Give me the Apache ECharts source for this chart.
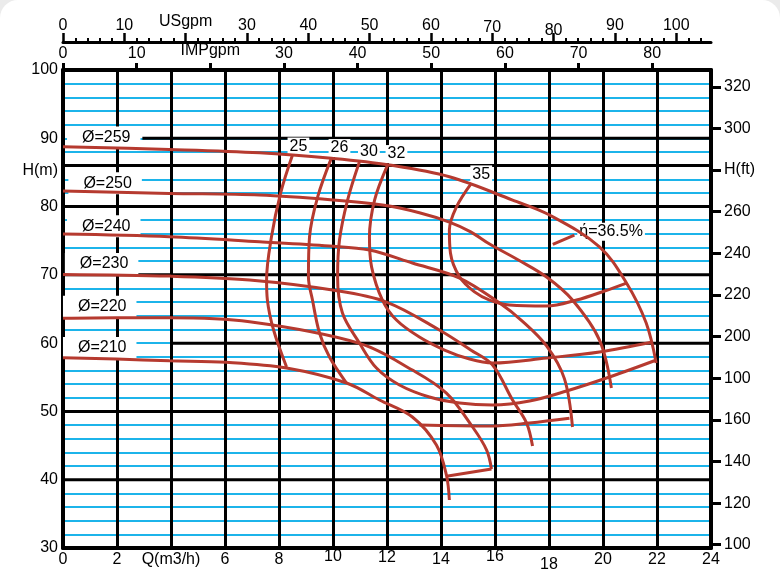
<!DOCTYPE html>
<html><head><meta charset="utf-8">
<script src="https://cdn.jsdelivr.net/npm/echarts@6/dist/echarts.min.js"></script>
<style>html,body{margin:0;padding:0;background:#fff}#c{width:780px;height:575px}</style>
</head><body><div id="c"></div>
<script>
// ---------- tick labels ----------
const qTicks   = [0,2,4,6,8,10,12,14,16,18,20,22,24];
const qLabels  = ['0','2','Q(m3/h)','6','8','10','12','14','16','18','20','22','24'];
const hTicks   = [30,40,50,60,70,80,90,100,85.3];
const hLabels  = ['30','40','50','60','70','80','90','100','H(m)'];
const ftTicks  = [100,120,140,160,180,200,220,240,260,280,300,320];
const ftLabels = ['100','120','140','160','100','200','220','240','260','H(ft)','300','320'];
const usTicks  = [0,10,20,30,40,50,60,70,80,90,100];
const usLabels = ['0','10','USgpm','30','40','50','60','70','80','90','100'];
const impTicks = [0,10,20,30,40,50,60,70,80];
const impLabels= ['0','10','IMPgpm','30','40','50','60','70','80'];

// ---------- H-Q curves (Q m3/h, H m) ----------
const h259 = [[0,88.76],[3.94,88.37],[7.28,87.88],[9.94,87.06],[12.09,86.08],[14.31,84.36],[16.65,80.95],[18.02,78.76],[19.87,74.11],[20.87,68.8],[21.6,62.94],[21.97,57.09]];
const h250 = [[0,82.27],[3.94,81.93],[7.28,81.68],[9.9,81.0],[11.83,80.22],[13.2,79.1],[14.31,77.73],[15.1,76.3],[15.8,74.51],[16.9,72.1],[17.91,69.68],[18.87,66.31],[19.87,60.45],[20.31,53.43]];
const h240 = [[0,75.97],[3.94,75.58],[7.28,74.85],[9.87,74.22],[11.35,73.63],[12.94,71.73],[14.69,69.53],[16.17,65.87],[17.02,63.2],[17.91,59.6],[18.57,54.8],[18.87,47.72]];
const h230 = [[0,70.07],[3.94,69.82],[6.91,69.24],[9.98,67.77],[11.98,66.02],[13.94,61.92],[15.1,59.0],[15.91,56.79],[16.65,51.67],[17.17,48.3],[17.39,44.93]];
const h220 = [[0,63.63],[1.98,63.72],[3.94,63.72],[6.91,63.13],[10.98,59.97],[12.94,56.06],[14.2,52.69],[15.17,47.72],[15.69,44.35],[15.87,41.57]];
const h210 = [[0,57.86],[1.98,57.67],[3.94,57.42],[6.06,57.19],[8.28,56.35],[10.5,54.16],[11.72,51.67],[12.94,49.18],[13.83,45.08],[14.2,40.69],[14.31,37.03]];

// ---------- efficiency curves ----------
const e25L = [[8.5,87.54],[8.06,81.98],[7.72,75.53],[7.54,69.24],[7.57,66.31],[7.8,61.92],[8.28,56.5]];
const e25R = [[14.2,40.5],[15.87,41.57]];
const e26L = [[9.94,87.1],[9.43,81.39],[9.13,75.53],[9.09,69.68],[9.24,66.31],[9.5,61.48],[9.87,57.96],[10.5,54.16]];
const e26R = [[13.2,48.0],[15.8,47.86],[17.28,48.3],[18.76,48.99]];
const e30  = [[10.98,86.56],[10.54,80.95],[10.24,75.1],[10.17,69.68],[10.35,64.41],[10.98,60.01],[11.61,56.35],[12.46,53.87],[13.57,52.11],[14.69,51.23],[15.91,50.94],[17.28,51.52],[18.65,52.99],[20.24,55.04],[21.98,57.53]];
const e32  = [[12.02,86.08],[11.54,80.95],[11.35,75.53],[11.43,71.14],[11.83,66.31],[12.35,63.38],[13.2,60.89],[14.13,58.99],[15.06,57.67],[15.91,57.09],[17.91,57.82],[19.87,58.7],[21.83,60.16]];
const e35  = [[15.13,83.44],[14.57,79.93],[14.31,76.56],[14.35,73.19],[14.69,69.68],[15.24,67.5],[15.8,66.31],[16.54,65.58],[17.91,65.43],[19.02,66.31],[20.06,67.64],[20.87,68.8]];
const e365 = [[18.14,74.47],[18.94,75.83]];

// ---------- curve labels ----------
const diaNames = ['Ø=259','Ø=250','Ø=240','Ø=230','Ø=220','Ø=210'];
const diaPos   = [[1.51,90.1],[1.56,83.4],[1.51,77.1],[1.43,71.58],[1.36,65.33],[1.36,59.28]];
const effNames = ['25','26','30','32','35','ή=36.5%'];
const effPos   = [[8.72,88.79],[10.24,88.57],[11.33,87.98],[12.35,87.69],[15.49,84.71],[20.3,76.31]];

// black (heavy) horizontal grid levels
const blackFull = [40,50,70,80,86];
const blackPartial = [[2.94,24,90],[4,24,60],[0,0.35,60]];

const FONT = '"Liberation Sans", Arial, sans-serif';
const RED = '#b63a2f';
const BLUE = '#1cb4ea';
const M2FT = 1/0.3048, US = 4.40287, IMP = 3.66615;

const qShift = {10:'h',16:'h',18:'l',12:'m'};
const usShift = {20:'u',80:'e',70:'m'};

const txt = {fontSize:16,fontFamily:FONT,color:'#000'};

const series = [];
blackFull.forEach(y => series.push({type:'line',data:[[0,y],[24,y]],symbol:'none',silent:true,animation:false,
  lineStyle:{color:'#000',width:3},z:2}));
blackPartial.forEach(p => series.push({type:'line',data:[[p[0],p[2]],[p[1],p[2]]],symbol:'none',silent:true,animation:false,
  lineStyle:{color:'#000',width:3},z:2}));
const lblBase = {show:true,position:'inside',formatter:'{b}',...txt,backgroundColor:'#ffffff',textBorderWidth:0,opacity:1};
series.push({type:'scatter',symbolSize:0.01,itemStyle:{color:'#ffffff',opacity:1},silent:true,animation:false,z:3,
  data:diaNames.map((n,i)=>({name:n,value:diaPos[i]})),
  label:{...lblBase,padding:[3,10,3,15]}});
series.push({type:'scatter',symbolSize:0.01,itemStyle:{color:'#ffffff',opacity:1},silent:true,animation:false,z:3,
  data:effNames.map((n,i)=>({name:n,value:effPos[i]})),
  label:{...lblBase,padding:[1,2]}});
[h259,h250,h240,h230,h220,h210,e25L,e25R,e26L,e26R,e30,e32,e35,e365].forEach(d => series.push({
  type:'line',data:d,symbol:'none',showSymbol:false,smooth:d.length>2?0.35:false,silent:true,animation:false,
  lineStyle:{color:RED,width:3},z:4}));

const chart = echarts.init(document.getElementById('c'),null,{renderer:'canvas'});
chart.setOption({
  animation:false,
  backgroundColor:'#ebebeb',
  graphic:[{type:'rect',left:0,top:0,z:-10,shape:{width:780,height:575,r:[18,18,0,0]},style:{fill:'#fff'}}],
  grid:{left:63,top:70,width:648,height:478},
  xAxis:[
    {type:'value',position:'bottom',min:0,max:24,interval:2,z:1,
     axisLine:{onZero:false,lineStyle:{color:'#000',width:4}},axisTick:{show:false},
     splitLine:{show:true,lineStyle:{color:'#000',width:3}},
     axisLabel:{margin:1,...txt,formatter:v=>'{'+(qShift[v]||'n')+'|'+qLabels[qTicks.indexOf(v)]+'}',
       rich:{n:{...txt,padding:[3,0,0,0]},m:{...txt,padding:[1,0,0,0]},h:{...txt,padding:[0,0,0,0]},l:{...txt,padding:[8,0,0,0]}}}},
    {type:'value',position:'top',min:0,max:24*IMP,z:1,
     axisLine:{onZero:false,lineStyle:{color:'#000',width:4}},
     axisTick:{show:true,customValues:impTicks,length:7,lineStyle:{color:'#000',width:3}},
     splitLine:{show:false},
     axisLabel:{customValues:impTicks,margin:8,...txt,formatter:v=>v===20?'{u|IMPgpm}':'{n|'+impLabels[impTicks.indexOf(v)]+'}',
       rich:{n:{...txt,padding:[0,0,0,0]},u:{...txt,padding:[0,0,3,0]}}}},
    {type:'value',position:'top',offset:28,min:0,max:24*US,z:1,
     axisLine:{onZero:false,lineStyle:{color:'#000',width:3}},
     axisTick:{show:true,customValues:usTicks,length:9,lineStyle:{color:'#000',width:2.5}},
     splitLine:{show:false},
     axisLabel:{customValues:usTicks,margin:3,...txt,formatter:v=>'{'+(usShift[v]||'n')+'|'+usLabels[usTicks.indexOf(v)]+'}',
       rich:{n:{...txt,padding:[0,0,5,0]},u:{...txt,padding:[0,0,9,0]},e:{...txt,padding:[0,0,0,0]},m:{...txt,padding:[0,0,3,0]}}}},
    {type:'value',position:'top',offset:28,min:0,max:24*US,z:1,
     axisLine:{show:false,onZero:false},
     axisTick:{show:true,customValues:(()=>{const a=[];for(let v=2;v<=104;v+=2){if(v%10)a.push(v);}return a;})(),length:4,lineStyle:{color:'#000',width:2}},
     splitLine:{show:false},axisLabel:{show:false}}
  ],
  yAxis:[
    {type:'value',position:'left',min:30,max:100,interval:2,z:0,
     axisLine:{show:true,onZero:false,lineStyle:{color:'#000',width:4}},axisTick:{show:false},
     splitLine:{show:true,lineStyle:{color:BLUE,width:2}},
     axisLabel:{customValues:hTicks,margin:5,...txt,formatter:v=>hLabels[hTicks.indexOf(v)]}},
    {type:'value',position:'right',min:30*M2FT,max:100*M2FT,z:1,
     axisLine:{show:true,onZero:false,lineStyle:{color:'#000',width:4}},
     axisTick:{show:true,customValues:ftTicks,length:10,lineStyle:{color:'#000',width:3}},
     splitLine:{show:false},
     axisLabel:{customValues:ftTicks,margin:13,...txt,formatter:v=>ftLabels[ftTicks.indexOf(v)]}}
  ],
  series:series
});
</script></body></html>
